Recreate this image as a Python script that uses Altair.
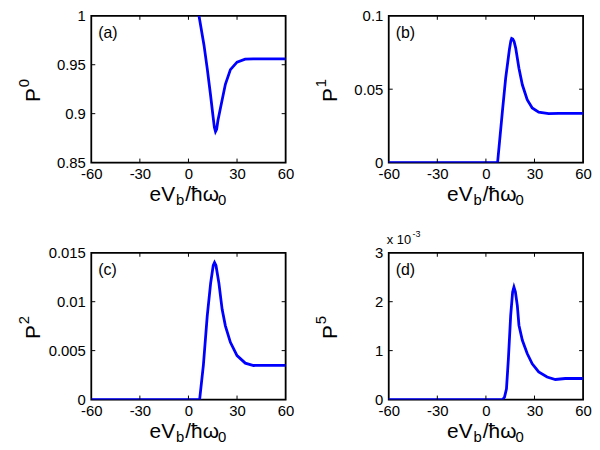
import altair as alt
import pandas as pd

W, H = 196, 148
FONT = "Liberation Sans"
BLUE = "#0000ff"

x_ticks = [-60, -30, 0, 30, 60]

# panel (a)  P^0
xa = [6.5, 9.6, 11.6, 13.6, 15.2, 16.0, 16.7, 17.4, 18.2, 19.8, 22.8, 25.9, 30, 35, 40, 50, 60]
ya = [1.0, 0.970, 0.946, 0.9196, 0.897, 0.886, 0.8817, 0.884, 0.893, 0.906, 0.930, 0.945, 0.9527, 0.9557, 0.956, 0.956, 0.956]
# panel (b)  P^1
xb = [-60, 7.2, 10.2, 12.2, 14.5, 15.4, 15.9, 16.6, 17.4, 18.4, 20.4, 22.5, 25.5, 28.6, 32.6, 38.8, 45, 60]
yb = [0, 0, 0.035, 0.0575, 0.077, 0.083, 0.0846, 0.0842, 0.0825, 0.078, 0.0643, 0.053, 0.0429, 0.0372, 0.0343, 0.0334, 0.0335, 0.0335]
# panel (c)  P^2
xc = [-60, 6.9, 9.2, 11.6, 13.7, 15.3, 16.1, 17.0, 18.8, 20.8, 22.8, 25.9, 30, 35.1, 40.2, 50, 60]
yc = [0, 0, 0.00348, 0.00855, 0.0119, 0.0137, 0.0140, 0.0137, 0.0119, 0.00922, 0.00753, 0.00585, 0.00449, 0.00372, 0.00348, 0.0035, 0.0035]
# panel (d)  P^5 (x 10^-3)
xd = [-60, 10.3, 11.5, 12.7, 13.9, 15.3, 16.5, 17.3, 18.2, 19.4, 20.4, 22.5, 25.5, 28.6, 32.6, 37.8, 42.9, 49, 60]
yd = [0, 0, 0.05, 0.22, 0.84, 1.72, 2.2, 2.30, 2.2, 1.92, 1.52, 1.21, 0.94, 0.73, 0.565, 0.46, 0.41, 0.43, 0.43]

panels = [
    dict(x=xa, y=ya, dom=[0.85, 1.0], ticks=[0.85, 0.9, 0.95, 1.0], tag="(a)", sup="0"),
    dict(x=xb, y=yb, dom=[0.0, 0.1], ticks=[0, 0.05, 0.1], tag="(b)", sup="1"),
    dict(x=xc, y=yc, dom=[0.0, 0.015], ticks=[0, 0.005, 0.01, 0.015], tag="(c)", sup="2"),
    dict(x=xd, y=yd, dom=[0.0, 3.0], ticks=[0, 1, 2, 3], tag="(d)", sup="5", mult=True),
]


def txt(s, x, y, size, angle=0, align="left", baseline="alphabetic"):
    df = pd.DataFrame({"t": [s]})
    return alt.Chart(df).mark_text(
        font=FONT, fontSize=size, color="black", align=align, baseline=baseline, angle=angle
    ).encode(text="t:N", x=alt.value(x), y=alt.value(y))


LABEL_EXPR = "replace(format(datum.value, '.3~g'), '\u2212', '-')"


def panel(p):
    xs = alt.Scale(domain=[-60, 60], nice=False, zero=False)
    ys = alt.Scale(domain=p["dom"], nice=False, zero=False)
    df = pd.DataFrame({"x": p["x"], "y": p["y"]})
    frame = alt.Chart(pd.DataFrame({"f": [0]})).mark_rect(
        fill="white", stroke="black", strokeWidth=1.8
    ).encode(x=alt.value(0), x2=alt.value(W), y=alt.value(0), y2=alt.value(H))
    line = alt.Chart(df).mark_line(color=BLUE, strokeWidth=2.8, clip=True).encode(
        x=alt.X("x:Q", scale=xs, axis=alt.Axis(
            values=x_ticks, title=None, domain=False, ticks=False, grid=False,
            labelExpr=LABEL_EXPR,
            labelFont=FONT, labelFontSize=15, labelColor="black", labelPadding=4,
            labelFlush=False, labelOverlap=False)),
        y=alt.Y("y:Q", scale=ys, axis=alt.Axis(
            values=p["ticks"], title=None, domain=False, ticks=False, grid=False,
            labelExpr=LABEL_EXPR,
            labelFont=FONT, labelFontSize=15, labelColor="black", labelPadding=6,
            labelFlush=False, labelOverlap=False)),
    )
    xt = pd.DataFrame({"x": x_ticks[1:-1]})
    yt = pd.DataFrame({"y": p["ticks"][1:-1]})
    tb = alt.Chart(xt).mark_rule(color="black", strokeWidth=1).encode(
        x="x:Q", y=alt.value(H), y2=alt.value(H - 4))
    tt = alt.Chart(xt).mark_rule(color="black", strokeWidth=1).encode(
        x="x:Q", y=alt.value(0), y2=alt.value(4))
    tl = alt.Chart(yt).mark_rule(color="black", strokeWidth=1).encode(
        y="y:Q", x=alt.value(0), x2=alt.value(4))
    tr = alt.Chart(yt).mark_rule(color="black", strokeWidth=1).encode(
        y="y:Q", x=alt.value(W), x2=alt.value(W - 4))

    layers = [frame, line, tb, tt, tl, tr, txt(p["tag"], 7, 22, 16)]

    # y title  P^n  (rotated)
    layers.append(txt("P", -52, H / 2 + 6, 21, angle=270, align="center"))
    layers.append(txt(p["sup"], -63, H / 2 - 6, 15, angle=270, align="center"))

    # x title  eV_b/ħω_0
    big, small = 21, 15
    parts = [("eV", big, 0), ("b", small, 4), ("/ħω", big, 0), ("0", small, 4)]
    widths = {"e": 0.556, "V": 0.667, "b": 0.556, "/": 0.278, "ħ": 0.556, "ω": 0.69, "0": 0.556}
    total = sum(sum(widths[c] for c in s) * fs + 1 for s, fs, _ in parts)
    cx = W / 2 - total / 2
    base = H + 39
    for s, fs, dy in parts:
        layers.append(txt(s, cx, base + dy, fs))
        cx += sum(widths[c] for c in s) * fs + 1

    if p.get("mult"):
        layers.append(txt("x 10", -2, -9, 13))
        layers.append(txt("-3", 24, -16, 9))

    return alt.layer(*layers).properties(width=W, height=H)


chart = alt.concat(
    *[panel(p) for p in panels], columns=2,
    spacing={"column": 104, "row": 91}, bounds="flush"
).properties(
    padding={"left": 8, "top": -2, "right": 0, "bottom": 0}
).configure_view(strokeWidth=0).configure(font=FONT)

chart.save("out.html", embed_options={"renderer": "svg", "actions": False})
